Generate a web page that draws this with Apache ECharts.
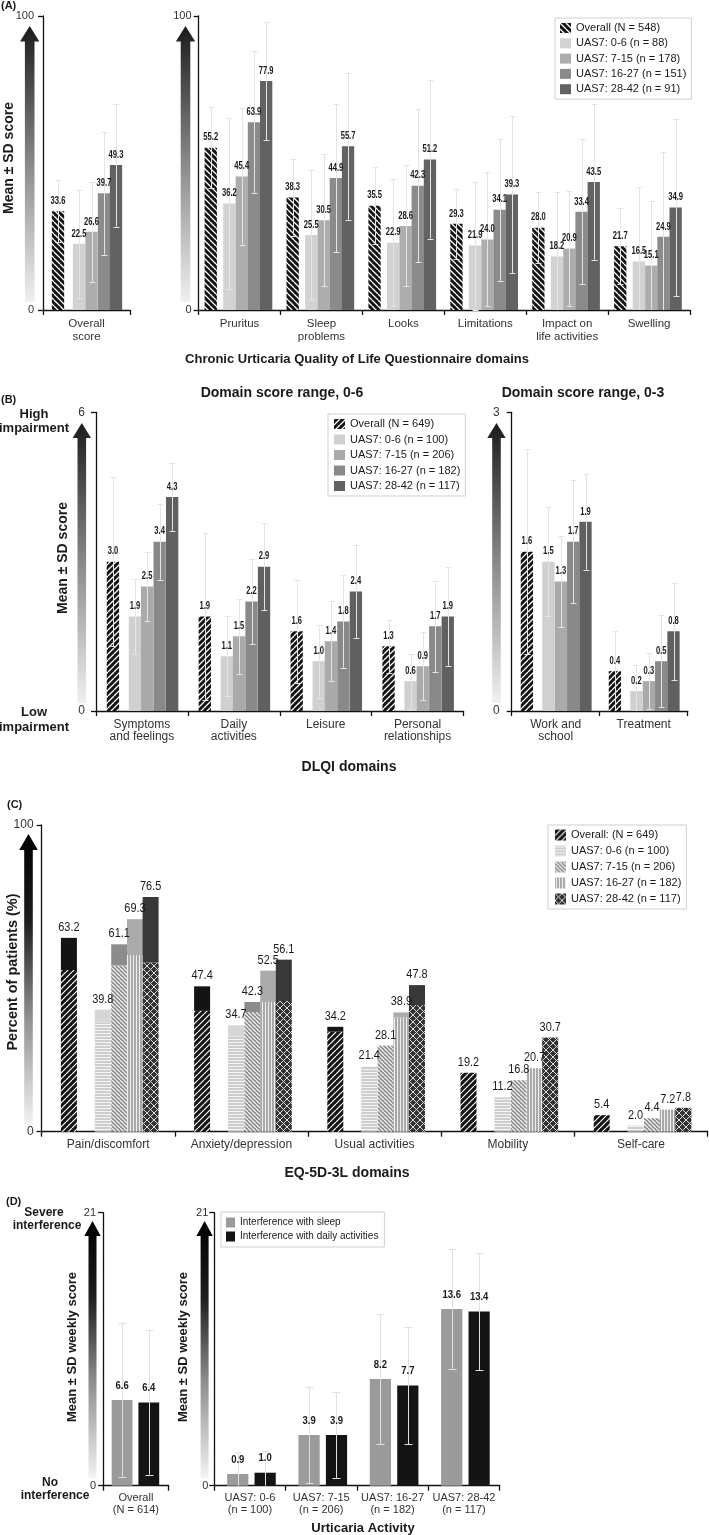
<!DOCTYPE html>
<html><head><meta charset="utf-8">
<script src="https://cdn.jsdelivr.net/npm/echarts@6/dist/echarts.min.js"></script>
<style>html,body{margin:0;padding:0;background:#fff}#c{width:709px;height:1535px}</style>
</head><body><div id="c"></div>
<script>
// ================= DATA =================
// (A) CU-Q2oL: first value = overall score, then the six domains
const aOverallCat = ['Overall\nscore'];
const aDomainCats = ['Pruritus', 'Sleep\nproblems', 'Looks', 'Limitations', 'Impact on\nlife activities', 'Swelling'];
const aGroups = ['Overall (N = 548)', 'UAS7: 0-6 (n = 88)', 'UAS7: 7-15 (n = 178)', 'UAS7: 16-27 (n = 151)', 'UAS7: 28-42 (n = 91)'];
const aMeanOverall = [33.6, 55.2, 38.3, 35.5, 29.3, 28.0, 21.7];
const aMeanU0_6   = [22.5, 36.2, 25.5, 22.9, 21.9, 18.2, 16.5];
const aMeanU7_15  = [26.6, 45.4, 30.5, 28.6, 24.0, 20.9, 15.1];
const aMeanU16_27 = [39.7, 63.9, 44.9, 42.3, 34.1, 33.4, 24.9];
const aMeanU28_42 = [49.3, 77.9, 55.7, 51.2, 39.3, 43.5, 34.9];
const aSdOverall = [10.6, 13.7, 13.0, 13.0, 12.0, 12.0, 13.0];
const aSdU0_6   = [18.4, 29.0, 22.2, 21.6, 21.8, 22.0, 25.4];
const aSdU7_15  = [17.0, 23.2, 22.5, 20.6, 22.8, 19.6, 21.9];
const aSdU16_27 = [20.9, 24.2, 25.2, 26.0, 24.2, 24.6, 28.7];
const aSdU28_42 = [20.9, 20.2, 25.0, 26.9, 26.8, 26.4, 30.1];

// (B) DLQI: first four domains range 0-6, last two range 0-3
const bCats06 = ['Symptoms\nand feelings', 'Daily\nactivities', 'Leisure', 'Personal\nrelationships'];
const bCats03 = ['Work and\nschool', 'Treatment'];
const bGroups = ['Overall (N = 649)', 'UAS7: 0-6 (n = 100)', 'UAS7: 7-15 (n = 206)', 'UAS7: 16-27 (n = 182)', 'UAS7: 28-42 (n = 117)'];
const bMeanOverall = [3.0, 1.9, 1.6, 1.3, 1.6, 0.4];
const bMeanU0_6   = [1.9, 1.1, 1.0, 0.6, 1.5, 0.2];
const bMeanU7_15  = [2.5, 1.5, 1.4, 0.9, 1.3, 0.3];
const bMeanU16_27 = [3.4, 2.2, 1.8, 1.7, 1.7, 0.5];
const bMeanU28_42 = [4.3, 2.9, 2.4, 1.9, 1.9, 0.8];
const bSdOverall = [1.70, 1.67, 1.04, 0.53, 1.03, 0.40];
const bSdU0_6   = [0.76, 0.80, 0.73, 0.55, 0.55, 0.26];
const bSdU7_15  = [0.69, 0.75, 0.80, 0.68, 0.46, 0.28];
const bSdU16_27 = [0.76, 0.86, 0.93, 0.92, 0.62, 0.46];
const bSdU28_42 = [0.68, 0.88, 0.94, 0.99, 0.48, 0.49];

// (C) EQ-5D-3L: percent with any problem (total) and the solid top part
const cCats = ['Pain/discomfort', 'Anxiety/depression', 'Usual activities', 'Mobility', 'Self-care'];
const cGroups = ['Overall: (N = 649)', 'UAS7: 0-6 (n = 100)', 'UAS7: 7-15 (n = 206)', 'UAS7: 16-27 (n = 182)', 'UAS7: 28-42 (n = 117)'];
const cTotalOverall = [63.2, 47.4, 34.2, 19.2, 5.4];
const cTotalU0_6   = [39.8, 34.7, 21.4, 11.2, 2.0];
const cTotalU7_15  = [61.1, 42.3, 28.1, 16.8, 4.4];
const cTotalU16_27 = [69.3, 52.5, 38.9, 20.7, 7.2];
const cTotalU28_42 = [76.5, 56.1, 47.8, 30.7, 7.8];
const cTopOverall = [10.5, 8.0, 1.6, 0, 0];
const cTopU0_6   = [4.2, 3.7, 0, 0, 0];
const cTopU7_15  = [6.9, 3.3, 0, 0, 0];
const cTopU16_27 = [11.7, 10.2, 1.7, 0, 0];
const cTopU28_42 = [21.3, 13.5, 6.5, 0, 0];

// (D) Interference: first value = overall, then UAS7 bands
const dCatsOverall = ['Overall\n(N = 614)'];
const dCatsUas = ['UAS7: 0-6\n(n = 100)', 'UAS7: 7-15\n(n = 206)', 'UAS7: 16-27\n(n = 182)', 'UAS7: 28-42\n(n = 117)'];
const dGroups = ['Interference with sleep', 'Interference with daily activities'];
const dMeanSleep = [6.6, 0.9, 3.9, 8.2, 13.6];
const dSdSleep   = [5.9, 1.7, 3.7, 5.0, 4.6];
const dMeanDaily = [6.4, 1.0, 3.9, 7.7, 13.4];
const dSdDaily   = [5.55, 1.7, 3.3, 4.5, 4.5];

// ================= STYLE / LAYOUT =================
const FF = "'Liberation Sans', Arial, sans-serif";

function pat(bg, fg, kind, s, lw) {
  const c = document.createElement('canvas'); c.width = s; c.height = s;
  const g = c.getContext('2d'); g.fillStyle = bg; g.fillRect(0, 0, s, s);
  g.strokeStyle = fg; g.lineWidth = lw; g.beginPath();
  if (kind === 'up' || kind === 'cross') for (let k = -1; k <= 1; k++) { g.moveTo(k * s, s); g.lineTo(k * s + s, 0); }
  if (kind === 'down' || kind === 'cross') for (let k = -1; k <= 1; k++) { g.moveTo(k * s, 0); g.lineTo(k * s + s, s); }
  if (kind === 'h') { g.moveTo(0, s / 2); g.lineTo(s, s / 2); }
  if (kind === 'v') { g.moveTo(s / 2, 0); g.lineTo(s / 2, s); }
  g.stroke();
  return { image: c, repeat: 'repeat' };
}

const aFills = [pat('#141414', '#ffffff', 'down', 6, 1.3), '#d2d2d2', '#adadad', '#8b8b8b', '#626262'];
const bFills = [pat('#141414', '#ffffff', 'up', 6, 1.3), '#d0d0d0', '#aaaaaa', '#898989', '#606060'];
const cPats = [pat('#141414', '#ffffff', 'up', 6, 1.2), pat('#cdcdcd', '#f5f5f5', 'h', 3, 1),
  pat('#8a8a8a', '#f2f2f2', 'down', 4, 1.3), pat('#a9a9a9', '#efefef', 'v', 3, 1), pat('#333333', '#dddddd', 'cross', 7, 1)];
const cTops = ['#141414', '#d6d6d6', '#8c8c8c', '#ababab', '#383838'];
const dFills = ['#9b9b9b', '#141414'];

const LAY = {
  aL: { off: [-28.5, -7.5, 5, 17.5, 29.5], w: 12.3 },
  aR: { off: [-28.8, -10.2, 2.2, 14.4, 26.6], w: 12.3 },
  bL: { off: [-29, -7, 5.2, 17.7, 30.2], w: 12.3 },
  bR: { off: [-28.8, -7.3, 5.2, 17.5, 29.8], w: 12.3 },
  c:  { off: [-39.3, -5.4, 11, 26.8, 42.4], w: 16 },
  dL: { off: [-13.8, 12.9], w: 20.8 },
  dR: { off: [-12.2, 15.2], w: 21.2 }
};
const ERR_AB = { errColor: '#e4e4e4', cap: 6, gap: 5, font: "bold 10px " + FF, sx: 0.76 };
const ERR_D = { errColor: '#e0e0e0', cap: 8, gap: 9, font: "bold 10px " + FF, sx: 0.95 };

function txt(t, x, y, font, align, va) {
  return { text: t, x: x, y: y, font: font, fill: '#1a1a1a', align: align, verticalAlign: va, textAlign: align, textVerticalAlign: va };
}

function barRender(off, w, fill, o) {
  return function (params, api) {
    const cat = api.value(0), v = api.value(1), e = api.value(2);
    const p0 = api.coord([cat, 0]), p1 = api.coord([cat, v]);
    const cx = p0[0] + off;
    const kids = [{ type: 'rect', z2: 1, shape: { x: cx - w / 2, y: p1[1], width: w, height: p0[1] - p1[1] }, style: { fill: fill } }];
    const yHi = api.coord([cat, v + e])[1];
    const lowV = v - e;
    const yLo = api.coord([cat, Math.max(0, lowV)])[1];
    const x = Math.round(cx) + 0.5;
    const ls = { stroke: o.errColor, lineWidth: 1 };
    kids.push({ type: 'line', z2: 10, shape: { x1: x, y1: yHi, x2: x, y2: yLo }, style: ls });
    kids.push({ type: 'line', z2: 10, shape: { x1: x - o.cap / 2, y1: Math.round(yHi) + 0.5, x2: x + o.cap / 2, y2: Math.round(yHi) + 0.5 }, style: ls });
    if (lowV > 0) kids.push({ type: 'line', z2: 10, shape: { x1: x - o.cap / 2, y1: Math.round(yLo) + 0.5, x2: x + o.cap / 2, y2: Math.round(yLo) + 0.5 }, style: ls });
    kids.push({ type: 'text', z2: 20, x: cx, y: p1[1] - o.gap, scaleX: o.sx, style: txt(v.toFixed(1), 0, 0, o.font, 'center', 'bottom') });
    return { type: 'group', children: kids };
  };
}

function stackRender(off, w, fillPat, fillTop) {
  return function (params, api) {
    const cat = api.value(0), v = api.value(1), s = api.value(2);
    const p0 = api.coord([cat, 0]), pm = api.coord([cat, v - s]), p1 = api.coord([cat, v]);
    const cx = p0[0] + off;
    const kids = [{ type: 'rect', z2: 1, shape: { x: cx - w / 2, y: pm[1], width: w, height: p0[1] - pm[1] }, style: { fill: fillPat } }];
    if (s > 0) kids.push({ type: 'rect', z2: 1, shape: { x: cx - w / 2, y: p1[1], width: w, height: pm[1] - p1[1] }, style: { fill: fillTop } });
    kids.push({ type: 'text', z2: 20, x: cx, y: p1[1] - 4, scaleX: 0.84, style: txt(v.toFixed(1), 0, 0, "13px " + FF, 'center', 'bottom') });
    return { type: 'group', children: kids };
  };
}

// ================= SERIES =================
const series = [];
const aMeans = [aMeanOverall, aMeanU0_6, aMeanU7_15, aMeanU16_27, aMeanU28_42];
const aSds = [aSdOverall, aSdU0_6, aSdU7_15, aSdU16_27, aSdU28_42];
aGroups.forEach(function (name, g) {
  series.push({ type: 'custom', name: name, xAxisIndex: 0, yAxisIndex: 0, itemStyle: { color: aFills[g] },
    data: aOverallCat.map(function (c, i) { return [i, aMeans[g][i], aSds[g][i]]; }),
    renderItem: barRender(LAY.aL.off[g], LAY.aL.w, aFills[g], ERR_AB) });
  series.push({ type: 'custom', name: name, xAxisIndex: 1, yAxisIndex: 1, itemStyle: { color: aFills[g] },
    data: aDomainCats.map(function (c, i) { return [i, aMeans[g][i + 1], aSds[g][i + 1]]; }),
    renderItem: barRender(LAY.aR.off[g], LAY.aR.w, aFills[g], ERR_AB) });
});
const bMeans = [bMeanOverall, bMeanU0_6, bMeanU7_15, bMeanU16_27, bMeanU28_42];
const bSds = [bSdOverall, bSdU0_6, bSdU7_15, bSdU16_27, bSdU28_42];
bGroups.forEach(function (name, g) {
  series.push({ type: 'custom', name: name, xAxisIndex: 2, yAxisIndex: 2, itemStyle: { color: bFills[g] },
    data: bCats06.map(function (c, i) { return [i, bMeans[g][i], bSds[g][i]]; }),
    renderItem: barRender(LAY.bL.off[g], LAY.bL.w, bFills[g], ERR_AB) });
  series.push({ type: 'custom', name: name, xAxisIndex: 3, yAxisIndex: 3, itemStyle: { color: bFills[g] },
    data: bCats03.map(function (c, i) { return [i, bMeans[g][i + 4], bSds[g][i + 4]]; }),
    renderItem: barRender(LAY.bR.off[g], LAY.bR.w, bFills[g], ERR_AB) });
});
const cTotals = [cTotalOverall, cTotalU0_6, cTotalU7_15, cTotalU16_27, cTotalU28_42];
const cTopsV = [cTopOverall, cTopU0_6, cTopU7_15, cTopU16_27, cTopU28_42];
cGroups.forEach(function (name, g) {
  series.push({ type: 'custom', name: name, xAxisIndex: 4, yAxisIndex: 4, itemStyle: { color: cPats[g] },
    data: cCats.map(function (c, i) { return [i, cTotals[g][i], cTopsV[g][i]]; }),
    renderItem: stackRender(LAY.c.off[g], LAY.c.w, cPats[g], cTops[g]) });
});
const dMeans = [dMeanSleep, dMeanDaily];
const dSds = [dSdSleep, dSdDaily];
dGroups.forEach(function (name, g) {
  series.push({ type: 'custom', name: name, xAxisIndex: 5, yAxisIndex: 5, itemStyle: { color: dFills[g] },
    data: dCatsOverall.map(function (c, i) { return [i, dMeans[g][i], dSds[g][i]]; }),
    renderItem: barRender(LAY.dL.off[g], LAY.dL.w, dFills[g], ERR_D) });
  series.push({ type: 'custom', name: name, xAxisIndex: 6, yAxisIndex: 6, itemStyle: { color: dFills[g] },
    data: dCatsUas.map(function (c, i) { return [i, dMeans[g][i + 1], dSds[g][i + 1]]; }),
    renderItem: barRender(LAY.dR.off[g], LAY.dR.w, dFills[g], ERR_D) });
});

// ================= AXES =================
const AX = { color: '#111', width: 1.3 };
function xAx(gi, data, fs, lh, margin) {
  return { type: 'category', gridIndex: gi, data: data,
    axisLine: { show: true, lineStyle: AX }, axisTick: { show: true, length: 5, lineStyle: AX },
    axisLabel: { interval: 0, fontSize: fs, lineHeight: lh, margin: margin, color: '#333', fontFamily: FF },
    splitLine: { show: false } };
}
function yAx(gi, max, fs, margin) {
  return { type: 'value', gridIndex: gi, min: 0, max: max, interval: max,
    axisLine: { show: true, lineStyle: AX }, axisTick: { show: true, length: 5, lineStyle: AX },
    axisLabel: { fontSize: fs, margin: margin, color: '#333', fontFamily: FF },
    splitLine: { show: false } };
}
function gr(l, t, w, h) { return { left: l, top: t, width: w, height: h, containLabel: false, outerBoundsMode: 'none' }; }

function legend(names, left, top, gap, fs, lh, iw, ih, pad, overrides) {
  return { orient: 'vertical', left: left, top: top, icon: 'rect', itemWidth: iw, itemHeight: ih, itemGap: gap,
    selectedMode: false, backgroundColor: '#fff', borderColor: '#cfcfcf', borderWidth: 1, padding: pad,
    textStyle: { fontSize: fs, lineHeight: lh, color: '#1a1a1a', fontFamily: FF },
    data: names.map(function (n, i) { return overrides ? { name: n, itemStyle: { color: overrides[i], borderWidth: 0 } } : { name: n, itemStyle: { borderWidth: 0 } }; }) };
}

// ================= DECORATION =================
function arrow(cx, tip, headBase, bottom, hw, sw, stops) {
  return { type: 'polygon', silent: true,
    shape: { points: [[cx, tip], [cx + hw, headBase], [cx + sw, headBase], [cx + sw, bottom], [cx - sw, bottom], [cx - sw, headBase], [cx - hw, headBase]] },
    style: { fill: { type: 'linear', x: 0, y: 0, x2: 0, y2: 1, colorStops: stops } } };
}
const GA = [{ offset: 0, color: '#1c1c1c' }, { offset: 0.5, color: '#8a8a8a' }, { offset: 1, color: '#f0f0f0' }];
const GC = [{ offset: 0, color: '#000' }, { offset: 0.3, color: '#1e1e1e' }, { offset: 0.62, color: '#8c8c8c' }, { offset: 1, color: '#f3f3f3' }];
function label(t, x, y, font, rot, align) {
  const e = { type: 'text', x: x, y: y, silent: true, style: txt(t, 0, 0, font, align || 'center', 'middle') };
  if (rot) e.rotation = Math.PI / 2;
  return e;
}
const B14 = "bold 14px " + FF, B13 = "bold 13px " + FF, B12 = "bold 12px " + FF, B11 = "bold 11px " + FF;

const graphics = [
  arrow(29.7, 26, 41.5, 302, 9.7, 4.8, GA),
  arrow(185.5, 26, 41.5, 302, 9.7, 4.8, GA),
  arrow(81.8, 423, 438, 703, 9.2, 4.3, GA),
  arrow(496.5, 423, 438, 703, 9.2, 4.3, GA),
  arrow(28.5, 834, 850, 1125, 9.3, 4.3, GC),
  arrow(92.5, 1221, 1236, 1478, 8.2, 4, GC),
  arrow(204.6, 1221, 1236, 1478, 8.2, 4, GC),
  label('(A)', 1, 6, B11, false, 'left'),
  label('(B)', 1, 400, B11, false, 'left'),
  label('(C)', 7, 805, B11, false, 'left'),
  label('(D)', 6, 1202, B11, false, 'left'),
  label('Mean ± SD score', 9, 158, B14, true),
  label('Chronic Urticaria Quality of Life Questionnaire domains', 357, 359, B13),
  label('Domain score range, 0-6', 282, 393, B14),
  label('Domain score range, 0-3', 583, 393, B14),
  label('High', 34, 414.5, B13), label('impairment', 34, 428.5, B13),
  label('Low', 34, 712, B13), label('impairment', 34, 727, B13),
  label('Mean ± SD score', 63, 558, B14, true),
  label('DLQI domains', 349, 767, B14),
  label('Percent of patients (%)', 13, 972, "bold 14.5px " + FF, true),
  label('EQ-5D-3L domains', 347, 1173, B14),
  label('Severe', 44, 1213, B12), label('interference', 47, 1226, B12),
  label('No', 50, 1483, B12), label('interference', 55, 1496, B12),
  label('Mean ± SD weekly score', 72, 1347, B13, true),
  label('Mean ± SD weekly score', 183, 1347, B13, true),
  label('Urticaria Activity', 363, 1528, B13)
];

const option = {
  animation: false,
  backgroundColor: '#fff',
  textStyle: { fontFamily: FF },
  grid: [gr(43, 16, 87, 294), gr(198.6, 16, 491.4, 294), gr(96, 412.3, 367.5, 298.7), gr(511.7, 412.3, 176, 298.7),
    gr(41.6, 825, 666, 306.7), gr(103.1, 1212.7, 65.6, 273), gr(214.3, 1212.7, 285.3, 273)],
  xAxis: [xAx(0, aOverallCat, 11.5, 13, 7), xAx(1, aDomainCats, 11.5, 13, 7), xAx(2, bCats06, 12, 12.5, 7), xAx(3, bCats03, 12, 12.5, 7),
    xAx(4, cCats, 12, 13, 6), xAx(5, dCatsOverall, 11, 12, 6), xAx(6, dCatsUas, 11, 12, 6)],
  yAxis: [yAx(0, 100, 11, 9), yAx(1, 100, 11, 7), yAx(2, 6, 12, 11), yAx(3, 3, 12, 12), yAx(4, 100, 12, 8), yAx(5, 21, 11, 7), yAx(6, 21, 11, 6)],
  legend: [legend(aGroups, 555, 18, 3.3, 11, 12, 11, 10, [4, 5, 4, 5]),
    legend(bGroups, 328, 414, 3.5, 11, 12, 11, 10, [4, 5, 4, 6]),
    legend(cGroups, 548, 825, 4, 11, 12, 11, 11, [4, 5, 4, 7], cPats),
    legend(dGroups, 221, 1212, 3, 10, 11, 9, 10, [5, 6, 5, 5])],
  series: series,
  graphic: { elements: graphics }
};
const chart = echarts.init(document.getElementById('c'), null, { renderer: 'canvas' });
chart.setOption(option);
</script>
</body></html>
